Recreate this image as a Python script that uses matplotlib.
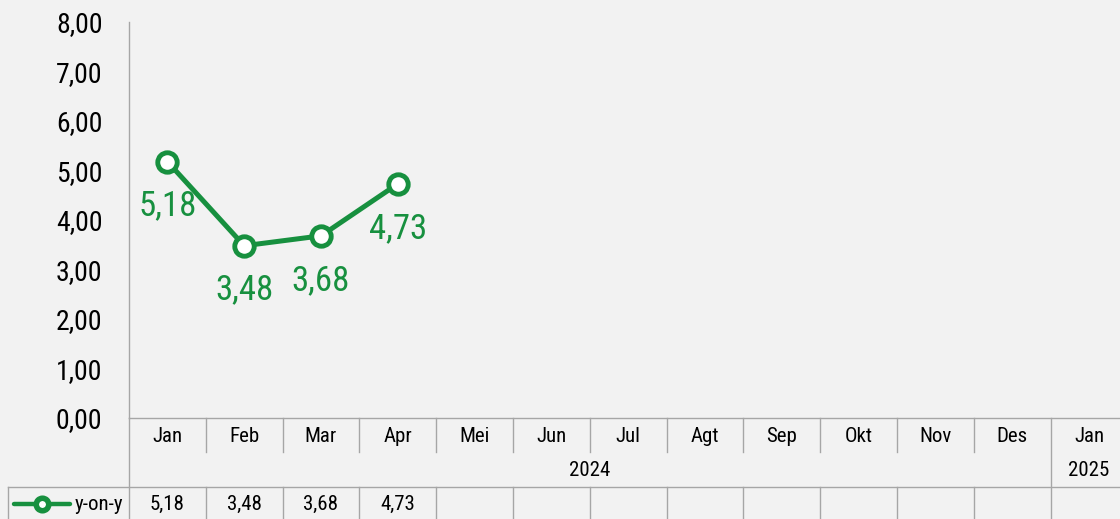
import matplotlib
matplotlib.use('Agg')
import matplotlib.pyplot as plt
from matplotlib import font_manager as fm

# data
months = ['Jan', 'Feb', 'Mar', 'Apr', 'Mei', 'Jun', 'Jul', 'Agt', 'Sep', 'Okt', 'Nov', 'Des', 'Jan']
years = ['2024', '2025']
year_len = [12, 1]
yoy = [5.18, 3.48, 3.68, 4.73]
series_name = 'y-on-y'
yticks = [0, 1, 2, 3, 4, 5, 6, 7, 8]

green = '#17903f'
grid_c = '#a6a6a6'
bg = '#f2f2f2'

# narrow sans like Arial Narrow, whichever is installed
have = {f.name for f in fm.fontManager.ttflist}
cands = ['Liberation Sans Narrow', 'Arial Narrow', 'Roboto Condensed',
         'PT Sans Narrow', 'Archivo Narrow', 'Liberation Sans']
fam = [c for c in cands if c in have][:1] + ['DejaVu Sans']
plt.rcParams['font.family'] = fam


def fmt(v):
    return f'{v:.2f}'.replace('.', ',')


W, H = 1120, 519
fig = plt.figure(figsize=(W / 100, H / 100), dpi=100, facecolor=bg)

n = len(months)
cw = 76.8  # column width in px
ax = fig.add_axes([129 / W, 101 / H, n * cw / W, 396 / H], facecolor=bg)
x = list(range(len(yoy)))
ax.plot(x, yoy, color=green, lw=3.6, marker='o', ms=14, mfc='white',
        mec=green, mew=3.5, zorder=3)
for xi, v in zip(x, yoy):
    ax.annotate(fmt(v), (xi, v), xytext=(0, -32), textcoords='offset points',
                ha='center', va='center', color=green, fontsize=25)

ax.set_xlim(-0.5, n - 0.5)
ax.set_ylim(0, 8)
ax.set_xticks([])
ax.set_yticks(yticks)
ax.set_yticklabels([fmt(t) for t in yticks], fontsize=20)
ax.tick_params(axis='y', length=0, pad=19)
for s in ['top', 'right']:
    ax.spines[s].set_visible(False)
for s in ['left', 'bottom']:
    ax.spines[s].set_color(grid_c)
    ax.spines[s].set_linewidth(1.0)

# table below the axis
x0 = -0.5 - 121 / cw
tb = fig.add_axes([8 / W, 0, (129 - 8 + n * cw) / W, 101 / H], facecolor=bg)
tb.set_xlim(x0, n - 0.5)
tb.set_ylim(101, 0)
tb.axis('off')

kw = dict(color=grid_c, lw=1.0, clip_on=False)
for i in range(1, n):
    b = i - 0.5
    if i == n - 1:
        tb.plot([b, b], [0, 101], **kw)
    else:
        tb.plot([b, b], [0, 34], **kw)
        tb.plot([b, b], [69, 101], **kw)
tb.plot([-0.5, -0.5], [0, 101], **kw)
tb.plot([x0, x0], [69, 101], **kw)
tb.plot([x0, n - 0.5], [69, 69], **kw)

for i, m in enumerate(months):
    tb.text(i, 18, m, ha='center', va='center', fontsize=15)
start = 0
for y, L in zip(years, year_len):
    tb.text(start + (L - 1) / 2, 52, y, ha='center', va='center', fontsize=15)
    start += L
for i, v in enumerate(yoy):
    tb.text(i, 86, fmt(v), ha='center', va='center', fontsize=15)

# legend key in the table
lx = [x0 + 6 / cw, x0 + 62 / cw]
tb.plot(lx, [86, 86], color=green, lw=3.2, solid_capstyle='round', clip_on=False)
tb.plot([x0 + 34 / cw], [86], marker='o', ms=9, mfc='white', mec=green, mew=4, clip_on=False)
tb.text(-0.5 - 6 / cw, 86, series_name, ha='right', va='center', fontsize=15)

fig.savefig('out.png', dpi=100, facecolor=bg)
